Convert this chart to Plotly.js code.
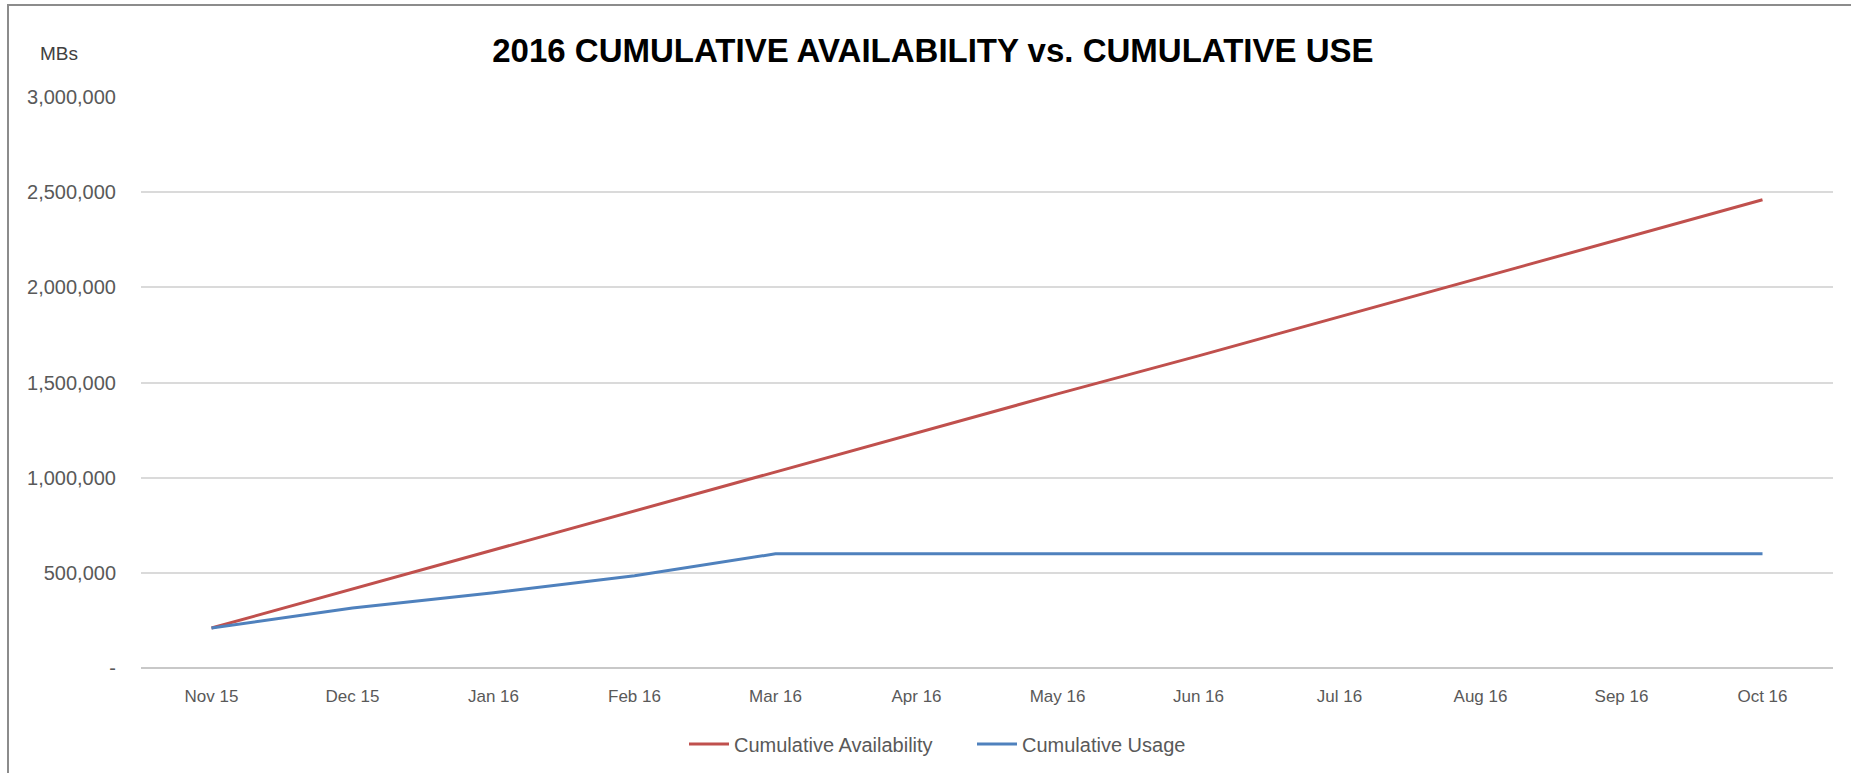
<!DOCTYPE html>
<html>
<head>
<meta charset="utf-8">
<script src="https://cdn.plot.ly/plotly-3.0.1.min.js"></script>
<style>
  html, body { margin: 0; padding: 0; background: #ffffff; }
  #wrap { position: relative; width: 1851px; height: 773px; overflow: hidden; }
  #frame { position: absolute; left: 7px; top: 4px; width: 1860px; height: 800px;
           border-top: 2px solid #8c8c8c; border-left: 2px solid #8c8c8c; pointer-events: none; }
  #chart { position: absolute; left: 0; top: 0; width: 1851px; height: 773px; }
</style>
</head>
<body>
<div id="wrap">
  <div id="chart"></div>
  <div id="frame"></div>
</div>
<script>
const months = ["Nov 15", "Dec 15", "Jan 16", "Feb 16", "Mar 16", "Apr 16",
                "May 16", "Jun 16", "Jul 16", "Aug 16", "Sep 16", "Oct 16"];
const cumulativeAvailability = [210000, 415000, 620000, 825000, 1030000, 1235000,
                                1440000, 1640000, 1845000, 2050000, 2255000, 2460000];
const cumulativeUsage = [210000, 315000, 395000, 485000, 600000, 600000,
                         600000, 600000, 600000, 600000, 600000, 600000];
const yTickVals = [0, 500000, 1000000, 1500000, 2000000, 2500000, 3000000];
const yTickText = ["-", "500,000", "1,000,000", "1,500,000", "2,000,000", "2,500,000", "3,000,000"];

const fam = "Liberation Sans, Arial, sans-serif";
const xTickFont = { family: fam, size: 17, color: "#595959" };
const yTickFont = { family: fam, size: 20, color: "#595959" };

const traces = [
  { x: months, y: cumulativeAvailability, type: "scatter", mode: "lines",
    name: "Cumulative Availability", line: { color: "#c0504d", width: 3 } },
  { x: months, y: cumulativeUsage, type: "scatter", mode: "lines",
    name: "Cumulative Usage", line: { color: "#4f81bd", width: 3 } }
];

const layout = {
  width: 1851, height: 773,
  paper_bgcolor: "#ffffff", plot_bgcolor: "#ffffff",
  margin: { l: 141, r: 18, t: 97, b: 105 },
  title: {
    text: "<b>2016 CUMULATIVE AVAILABILITY vs. CUMULATIVE USE</b>",
    font: { family: fam, size: 33, color: "#000000" },
    x: 0.504, xref: "container", xanchor: "center",
    y: 1 - 50 / 773, yref: "container", yanchor: "middle"
  },
  xaxis: {
    type: "category", range: [-0.5, 11.5],
    showgrid: false, zeroline: false, showline: false,
    ticks: "", tickfont: xTickFont, ticklabelstandoff: 16, fixedrange: true
  },
  yaxis: {
    range: [0, 3000000], tickvals: yTickVals, ticktext: yTickText,
    showgrid: true, gridcolor: "#dadada", gridwidth: 2,
    zeroline: true, zerolinecolor: "#c8c8c8", zerolinewidth: 2,
    showline: false, ticks: "", tickfont: yTickFont, ticklabelstandoff: 24, fixedrange: true
  },
  showlegend: true,
  legend: {
    orientation: "h", xref: "container", yref: "container",
    x: 684 / 1851, xanchor: "left", y: 1 - 744 / 773, yanchor: "middle",
    font: { family: fam, size: 20, color: "#595959" },
    entrywidth: 233, entrywidthmode: "pixels",
    itemwidth: 40, tracegroupgap: 0, bgcolor: "rgba(0,0,0,0)"
  },
  annotations: [
    { text: "MBs", xref: "paper", yref: "paper", x: (38 - 141) / 1692, y: (668 - 53) / 571,
      xanchor: "left", yanchor: "middle", showarrow: false,
      font: { family: fam, size: 19, color: "#404040" } }
  ]
};

Plotly.newPlot("chart", traces, layout, { displayModeBar: false, staticPlot: true });
</script>
</body>
</html>
